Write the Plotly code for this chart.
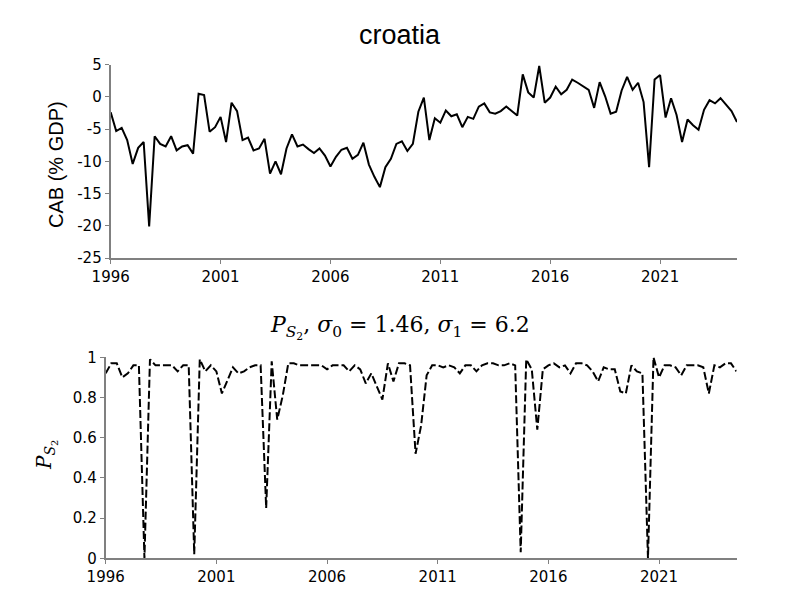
import plotly.graph_objects as go

# croatia: rachunek bieżący (% PKB) kwartalnie od 1996Q1 oraz P(S2)
start_year = 1996
cab = [
    -2.4, -5.3, -4.8, -6.7, -10.4, -7.9, -7.0, -20.1, -6.1, -7.3,
    -7.7, -6.1, -8.3, -7.7, -7.5, -8.8, 0.5, 0.3, -5.4, -4.7,
    -3.1, -7.0, -0.9, -2.2, -6.7, -6.3, -8.3, -8.0, -6.5, -11.9,
    -10.0, -12.0, -8.0, -5.8, -7.7, -7.4, -8.1, -8.7, -8.0, -9.1,
    -10.8, -9.3, -8.2, -7.9, -9.6, -9.0, -7.1, -10.5, -12.4, -14.0,
    -10.9, -9.6, -7.3, -6.9, -8.4, -7.3, -2.3, -0.1, -6.7, -3.3,
    -4.0, -2.1, -3.0, -2.7, -4.7, -3.1, -3.4, -1.5, -1.0, -2.4,
    -2.6, -2.2, -1.5, -2.2, -2.9, 3.5, 0.7, -0.1, 4.8, -0.9,
    -0.1, 1.6, 0.4, 1.1, 2.7, 2.2, 1.7, 1.1, -1.7, 2.3,
    0.1, -2.6, -2.3, 1.0, 3.1, 1.1, 2.2, -0.8, -10.9, 2.7,
    3.4, -3.2, -0.2, -2.8, -7.0, -3.5, -4.4, -5.1, -2.0, -0.5,
    -1.0, -0.2, -1.2, -2.2, -3.9,
]
p_s2 = [
    0.92, 0.97, 0.97, 0.90, 0.92, 0.96, 0.96, 0.00, 0.99, 0.96,
    0.96, 0.96, 0.96, 0.93, 0.96, 0.96, 0.02, 0.99, 0.93, 0.96,
    0.93, 0.82, 0.89, 0.95, 0.92, 0.93, 0.95, 0.96, 0.96, 0.25,
    0.98, 0.69, 0.81, 0.97, 0.97, 0.96, 0.96, 0.96, 0.96, 0.96,
    0.94, 0.96, 0.96, 0.96, 0.93, 0.96, 0.94, 0.87, 0.92, 0.85,
    0.79, 0.97, 0.88, 0.97, 0.97, 0.96, 0.52, 0.66, 0.91, 0.96,
    0.96, 0.95, 0.96, 0.95, 0.92, 0.96, 0.96, 0.93, 0.96, 0.97,
    0.97, 0.96, 0.96, 0.97, 0.96, 0.03, 0.99, 0.94, 0.64, 0.94,
    0.96, 0.97, 0.95, 0.96, 0.92, 0.97, 0.97, 0.96, 0.93, 0.88,
    0.95, 0.94, 0.94, 0.83, 0.82, 0.96, 0.93, 0.92, 0.00, 1.00,
    0.90, 0.96, 0.96, 0.95, 0.91, 0.96, 0.96, 0.96, 0.95, 0.82,
    0.96, 0.95, 0.97, 0.97, 0.93,
]
x_ticks = [1996, 2001, 2006, 2011, 2016, 2021]
cab_ticks = [5, 0, -5, -10, -15, -20, -25]
cab_tick_labels = ["5", "0", "-5", "-10", "-15", "-20", "-25"]
p_ticks = [1, 0.8, 0.6, 0.4, 0.2, 0]
p_tick_labels = ["1", "0.8", "0.6", "0.4", "0.2", "0"]

okresy = [start_year + i / 4 for i in range(len(cab))]

SPINE = "#808080"
TICK_FONT = dict(family="DejaVu Sans", size=15, color="black")
OFFSET = 8  # marginesy strony w przeglądarce


def px_x(px):
    return (px - OFFSET) / 800


def px_y(py):
    return 1 - (py - OFFSET) / 600


fig = go.Figure()
fig.add_trace(go.Scatter(
    x=okresy, y=cab, mode="lines",
    line=dict(color="black", width=2),
    xaxis="x", yaxis="y", showlegend=False,
))
fig.add_trace(go.Scatter(
    x=okresy, y=p_s2, mode="lines",
    line=dict(color="black", width=2, dash="8px,3px"),
    xaxis="x2", yaxis="y2", showlegend=False,
))

wspolne_x = dict(
    range=[1996, 2024.5], tickvals=x_ticks, ticks="outside", ticklen=4,
    tickcolor=SPINE, showline=True, linecolor=SPINE, linewidth=2,
    showgrid=False, zeroline=False, tickfont=TICK_FONT, automargin=False,
)
wspolne_y = dict(
    ticks="outside", ticklen=4, tickcolor=SPINE, showline=True,
    linecolor=SPINE, linewidth=2, showgrid=False, zeroline=False,
    tickfont=TICK_FONT, automargin=False,
)

fig.update_layout(
    width=800, height=600,
    margin=dict(l=0, r=0, t=0, b=0, pad=0, autoexpand=False),
    paper_bgcolor="white", plot_bgcolor="white",
    xaxis=dict(domain=[px_x(110.7), px_x(737)], anchor="y", **wspolne_x),
    yaxis=dict(domain=[px_y(258), px_y(64.7)], anchor="x", range=[-25, 5],
               tickvals=cab_ticks, ticktext=cab_tick_labels, **wspolne_y),
    xaxis2=dict(domain=[px_x(105.7), px_x(736.5)], anchor="y2", **wspolne_x),
    yaxis2=dict(domain=[px_y(558.3), px_y(357.3)], anchor="x2", range=[0, 1],
                tickvals=p_ticks, ticktext=p_tick_labels, **wspolne_y),
    annotations=[
        dict(text="croatia", x=px_x(400), y=px_y(35), xref="paper", yref="paper",
             showarrow=False, xanchor="center", yanchor="middle",
             font=dict(family="Liberation Sans", size=27, color="black")),
        dict(text="CAB (% GDP)", x=px_x(56), y=px_y(165), xref="paper",
             yref="paper", showarrow=False, textangle=-90,
             xanchor="center", yanchor="middle",
             font=dict(family="Liberation Sans", size=20, color="black")),
        dict(text="<i>P</i><sub><i>S</i><sub>2</sub></sub>, <i>σ</i><sub>0</sub> = 1.46, "
                  "<i>σ</i><sub>1</sub> = 6.2",
             x=px_x(400), y=px_y(327), xref="paper", yref="paper",
             showarrow=False, xanchor="center", yanchor="middle",
             font=dict(family="DejaVu Serif", size=22, color="black")),
        dict(text="<i>P</i><sub><i>S</i><sub>2</sub></sub>", x=px_x(46),
             y=px_y(455), xref="paper", yref="paper", showarrow=False,
             textangle=-90, xanchor="center", yanchor="middle",
             font=dict(family="DejaVu Serif", size=20, color="black")),
    ],
)

fig.write_html("out.html")
